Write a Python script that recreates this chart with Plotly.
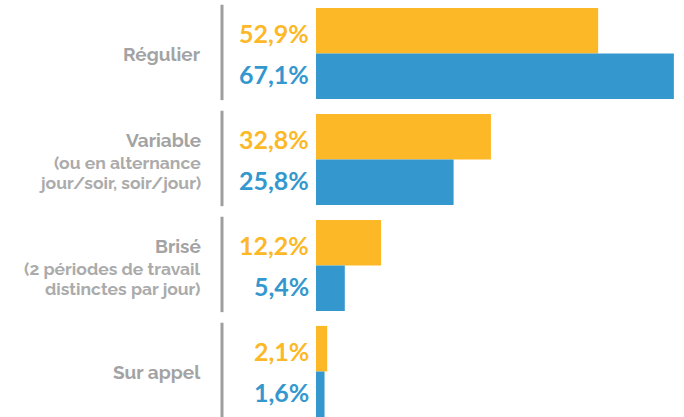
import plotly.graph_objects as go

categories = ["Régulier", "Variable", "Brisé", "Sur appel"]
subtitle_lines = [[], ["(ou en alternance", "jour/soir, soir/jour)"], ["(2 périodes de travail", "distinctes par jour)"], []]
series_a = [52.9, 32.8, 12.2, 2.1]
series_b = [67.1, 25.8, 5.4, 1.6]
labels_a = ["52,9%", "32,8%", "12,2%", "2,1%"]
labels_b = ["67,1%", "25,8%", "5,4%", "1,6%"]

ORANGE = "#FDB827"
BLUE = "#3498CF"
GRAY = "#A3A3A3"
GRAY_LIGHT = "#ABABAB"
FONT = "Raleway, Lato, Open Sans, sans-serif"
NUM_FONT = "Lato, Open Sans, sans-serif"

fig = go.Figure()
fig.add_trace(go.Bar(y=categories, x=series_a, orientation="h", marker=dict(color=ORANGE, line=dict(width=0)),
                     hoverinfo="skip", name="A"))
fig.add_trace(go.Bar(y=categories, x=series_b, orientation="h", marker=dict(color=BLUE, line=dict(width=0)),
                     hoverinfo="skip", name="B"))

W, H = 684, 417
L = 316
plot_w = W - L
unit = 106.0
start = -53.5 / unit
end = (H - 53.5) / unit

annotations = []
shapes = []
line_x = (222 - L) / plot_w
label_x = (203 - L) / plot_w
for i, cat in enumerate(categories):
    subs = subtitle_lines[i]
    title_shift = 0 if not subs else 19.5
    annotations.append(dict(x=label_x, xref="paper", y=i, yref="y", text="<b>" + cat + "</b>", showarrow=False,
                            xanchor="right", yanchor="middle", align="right", yshift=title_shift,
                            font=dict(family=FONT, size=19, color=GRAY)))
    for k, s in enumerate(subs):
        annotations.append(dict(x=label_x, xref="paper", y=i, yref="y", text="<b>" + s + "</b>", showarrow=False,
                                xanchor="right", yanchor="middle", align="right", yshift=-3 - 20.5 * k,
                                font=dict(family=FONT, size=17.5, color=GRAY_LIGHT)))
    annotations.append(dict(x=0, xref="x", y=i - 0.19, yref="y", text="<b>" + labels_a[i] + "</b>",
                            showarrow=False, xanchor="right", yanchor="middle", xshift=-5,
                            font=dict(family=NUM_FONT, size=25, color=ORANGE)))
    annotations.append(dict(x=0, xref="x", y=i + 0.19, yref="y", text="<b>" + labels_b[i] + "</b>",
                            showarrow=False, xanchor="right", yanchor="middle", xshift=-5,
                            font=dict(family=NUM_FONT, size=25, color=BLUE)))
    shapes.append(dict(type="line", xref="paper", yref="y", x0=line_x, x1=line_x,
                       y0=i - 0.46, y1=i + 0.44, line=dict(color="#9E9E9E", width=3)))

fig.update_layout(
    width=W, height=H,
    margin=dict(l=L, r=0, t=0, b=0),
    barmode="group", bargap=0.14, bargroupgap=0,
    plot_bgcolor="white", paper_bgcolor="white",
    showlegend=False,
    xaxis=dict(range=[0, 69], visible=False),
    yaxis=dict(range=[end, start], visible=False, type="category", categoryorder="array",
               categoryarray=categories),
    annotations=annotations, shapes=shapes,
)

fig.write_html("out.html", config={"displayModeBar": False},
               post_script="document.body.style.margin='0px';")
